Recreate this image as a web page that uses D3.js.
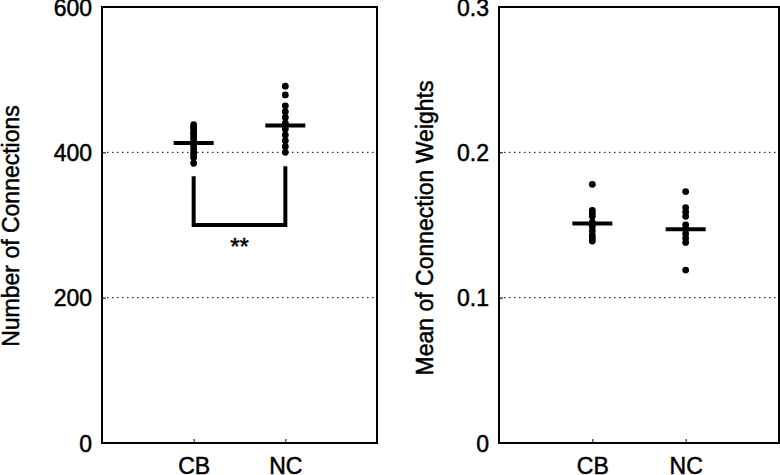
<!DOCTYPE html>
<meta charset="utf-8">
<head>
	<title>Connections CB vs NC</title>
	<script type="text/javascript" src="https://cdn.jsdelivr.net/npm/d3@7"></script>
	<style>
		body { margin: 0; background: #fff; }
		text { font-family: "Liberation Sans", Arial, sans-serif; fill: #000; stroke: #000; stroke-width: 0.5px; }
		.grid line { stroke: #000; stroke-dasharray: 1.5,3.5; stroke-width: 1; }
	</style>
</head>
<body>
	<div id="chart"></div>
	<script>

		// groups on the x axis
		var groups = ["CB", "NC"];

		// left panel: number of connections per subject
		var connCB = [438, 435, 432, 428, 425, 421, 417, 413, 409, 405, 401, 397, 393, 385];
		var connNC = [491, 479, 464, 456, 448, 440, 432, 424, 416, 408, 400];
		var connMean = [413, 437];
		var connTicks = [0, 200, 400, 600];
		var connGrid = [200, 400];
		var bracketLevel = 300;
		var bracketTops = [367, 381];

		// right panel: mean of connection weights
		var wCB = [0.178, 0.160, 0.158, 0.156, 0.152, 0.149, 0.146, 0.143, 0.141, 0.139];
		var wNC = [0.173, 0.162, 0.159, 0.156, 0.150, 0.147, 0.144, 0.141, 0.138, 0.119];
		var wMean = [0.151, 0.147];
		var wTicks = [0, 0.1, 0.2, 0.3];
		var wGrid = [0.1, 0.2];

		var width = 780, height = 475;
		var fs = "23px";

		var svg = d3.select("#chart").append("svg")
			.attr("width", width)
			.attr("height", height);

		function panel(opts) {
			var x = d3.scaleLinear().domain([0, 3]).range([opts.left, opts.right]);
			var y = d3.scaleLinear().domain(opts.domain).range([443, 7]);
			var g = svg.append("g");

			// dotted grid
			g.append("g").attr("class", "grid")
				.selectAll("line").data(opts.grid).enter().append("line")
				.attr("x1", opts.left).attr("x2", opts.right)
				.attr("y1", d => y(d)).attr("y2", d => y(d));

			// y axis (ticks inside)
			var yAxis = g.append("g")
				.attr("transform", "translate(" + opts.left + ",0)")
				.call(d3.axisLeft(y).tickValues(opts.ticks).tickSizeInner(-4).tickSizeOuter(0).tickPadding(10).tickFormat(opts.fmt));
			yAxis.select(".domain").remove();
			yAxis.selectAll("line").attr("stroke", "#000");
			yAxis.selectAll("text").style("font-size", fs).attr("dy", "0.36em");

			// x axis (ticks inside)
			var xAxis = g.append("g")
				.attr("transform", "translate(0,443)")
				.call(d3.axisBottom(x).tickValues([1, 2]).tickSizeInner(-4).tickSizeOuter(0).tickPadding(15)
					.tickFormat((d, i) => groups[i]));
			xAxis.select(".domain").remove();
			xAxis.selectAll("line").attr("stroke", "#000");
			xAxis.selectAll("text").style("font-size", fs);

			// box
			g.append("rect")
				.attr("x", opts.left).attr("y", 7)
				.attr("width", opts.right - opts.left).attr("height", 436)
				.attr("fill", "none").attr("stroke", "#000").attr("stroke-width", 2);

			// y label
			g.append("text")
				.attr("transform", "translate(" + opts.labelX + "," + opts.labelY + ") rotate(-90)")
				.attr("text-anchor", "middle")
				.style("font-size", fs)
				.text(opts.label);

			// points
			opts.series.forEach(function (vals, i) {
				g.append("g").selectAll("circle").data(vals).enter().append("circle")
					.attr("cx", x(i + 1)).attr("cy", d => y(d))
					.attr("r", 3.4).attr("fill", "#000");
			});

			// mean bars
			g.append("g").selectAll("line").data(opts.means).enter().append("line")
				.attr("x1", (d, i) => x(i + 1) - 20).attr("x2", (d, i) => x(i + 1) + 20)
				.attr("y1", d => y(d)).attr("y2", d => y(d))
				.attr("stroke", "#000").attr("stroke-width", 4);

			return {x: x, y: y, g: g};
		}

		var left = panel({
			left: 102, right: 377, domain: [0, 600],
			ticks: connTicks, grid: connGrid, fmt: d3.format("d"),
			label: "Number of Connections", labelX: 19, labelY: 226,
			series: [connCB, connNC], means: connMean
		});

		panel({
			left: 499, right: 779, domain: [0, 0.3],
			ticks: wTicks, grid: wGrid, fmt: d => d === 0 ? "0" : d3.format(".1f")(d),
			label: "Mean of Connection Weights", labelX: 433, labelY: 228,
			series: [wCB, wNC], means: wMean
		});

		// significance bracket
		var bx = left.x, by = left.y;
		var bracket = d3.line()([
			[bx(1), by(bracketTops[0])],
			[bx(1), by(bracketLevel)],
			[bx(2), by(bracketLevel)],
			[bx(2), by(bracketTops[1])]
		]);
		left.g.append("path").attr("d", bracket)
			.attr("fill", "none").attr("stroke", "#000").attr("stroke-width", 4);
		left.g.append("text")
			.attr("x", (bx(1) + bx(2)) / 2).attr("y", by(bracketLevel) + 30)
			.attr("text-anchor", "middle").style("font-size", "24px")
			.text("**");

	</script>
</body>
</html>
